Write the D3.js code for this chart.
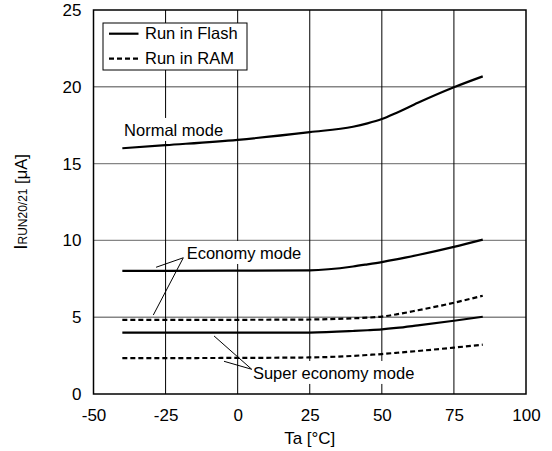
<!DOCTYPE html>
<html><head><meta charset="utf-8">
<script src="https://cdn.jsdelivr.net/npm/d3@7"></script>
<style>body{margin:0;background:#fff}svg{display:block;font-family:"Liberation Sans",Arial,Helvetica,sans-serif}</style>
</head><body><svg id="c" width="552" height="451"></svg>
<script>
// ---- data ----
const temps = [-40, -25, 0, 25, 40, 45, 50, 55, 62.5, 75, 85];
const normalFlash = [16.0, 16.2, 16.55, 17.05, 17.4, 17.62, 17.9, 18.3, 18.96, 19.97, 20.68];
const economyFlash = [8.02, 8.02, 8.03, 8.05, 8.3, 8.44, 8.59, 8.76, 9.05, 9.58, 10.05];
const economyRAM = [4.82, 4.82, 4.83, 4.85, 4.93, 4.97, 5.04, 5.18, 5.45, 5.94, 6.4];
const superFlash = [3.99, 3.99, 3.99, 4.0, 4.1, 4.15, 4.21, 4.3, 4.47, 4.77, 5.03];
const superRAM = [2.34, 2.34, 2.35, 2.38, 2.48, 2.54, 2.6, 2.68, 2.8, 3.02, 3.21];
const xTicks = [-50, -25, 0, 25, 50, 75, 100];
const yTicks = [0, 5, 10, 15, 20, 25];
const legendLabels = ["Run in Flash", "Run in RAM"];
const annotations = [
  {text: "Normal mode", x: -39.4, y: 16.8},
  {text: "Economy mode", x: -17.7, y: 8.79},
  {text: "Super economy mode", x: 5.3, y: 0.98}
];
const leaders = [
  [[-18.85, 8.87], [-28.3, 8.25]],
  [[-18.85, 8.87], [-29.26, 5.14]],
  [[4.87, 1.61], [-8.2, 3.78]],
  [[4.87, 1.61], [-4.74, 2.13]]
];

const series = [
  {v: normalFlash, dash: null},
  {v: economyFlash, dash: null},
  {v: economyRAM, dash: "5,3"},
  {v: superFlash, dash: null},
  {v: superRAM, dash: "5,3"}
];

const svg = d3.select("#c");
const L = 93.5, R = 526, T = 10, B = 394;
const x = d3.scaleLinear().domain([-50, 100]).range([L, R]);
const y = d3.scaleLinear().domain([0, 25]).range([B, T]);

// grid
svg.append("g").selectAll("line").data(yTicks.filter(d => d > 0 && d < 25)).join("line")
  .attr("x1", L).attr("x2", R).attr("y1", d => y(d)).attr("y2", d => y(d))
  .attr("stroke", "#858585").attr("stroke-width", 1.4);
svg.append("g").selectAll("line").data(xTicks.filter(d => d > -50 && d < 100)).join("line")
  .attr("y1", T).attr("y2", B).attr("x1", d => x(d)).attr("x2", d => x(d))
  .attr("stroke", "#000").attr("stroke-width", 1);

// annotation label backgrounds + text
const ag = svg.append("g");
annotations.forEach(a => {
  const bg = ag.append("rect").attr("fill", "#fff");
  const t = ag.append("text").attr("x", x(a.x)).attr("y", y(a.y))
    .attr("font-size", 16.5).attr("fill", "#000").text(a.text);
  const bb = t.node().getBBox();
  bg.attr("x", bb.x - 3).attr("y", bb.y - 3).attr("width", bb.width + 6).attr("height", bb.height + 5);
});

// leader lines
svg.append("g").selectAll("line").data(leaders).join("line")
  .attr("x1", d => x(d[0][0])).attr("y1", d => y(d[0][1]))
  .attr("x2", d => x(d[1][0])).attr("y2", d => y(d[1][1]))
  .attr("stroke", "#000").attr("stroke-width", 1);

// curves
const line = d3.line().x((d, i) => x(temps[i])).y(d => y(d)).curve(d3.curveMonotoneX);
svg.append("g").selectAll("path").data(series).join("path")
  .attr("d", d => line(d.v)).attr("fill", "none").attr("stroke", "#000")
  .attr("stroke-width", 2.2).attr("stroke-dasharray", d => d.dash);

// frame
svg.append("rect").attr("x", L).attr("y", T).attr("width", R - L).attr("height", B - T)
  .attr("fill", "none").attr("stroke", "#000").attr("stroke-width", 1.5);

// axes
const fmt = d => String(d);
const xAxis = svg.append("g").attr("transform", `translate(0,${B})`)
  .call(d3.axisBottom(x).tickValues(xTicks).tickSize(0).tickPadding(15).tickFormat(fmt));
const yAxis = svg.append("g").attr("transform", `translate(${L},0)`)
  .call(d3.axisLeft(y).tickValues(yTicks).tickSize(0).tickPadding(12).tickFormat(fmt));
[xAxis, yAxis].forEach(g => {
  g.select(".domain").remove();
  g.selectAll("text").attr("font-size", 17).attr("font-family", "Liberation Sans, Arial, sans-serif").attr("fill", "#000");
});

// axis titles
svg.append("text").attr("x", (L + R) / 2).attr("y", 444).attr("text-anchor", "middle")
  .attr("font-size", 17).text("Ta [°C]");
const yt = svg.append("text").attr("transform", `translate(27,${(T + B) / 2}) rotate(-90)`)
  .attr("text-anchor", "middle");
yt.append("tspan").attr("font-size", 19).text("I");
yt.append("tspan").attr("font-size", 12).text("RUN20/21");
yt.append("tspan").attr("font-size", 16.5).text(" [μA]");

// legend
const lg = svg.append("g");
lg.append("rect").attr("x", 103).attr("y", 23).attr("width", 144).attr("height", 47)
  .attr("fill", "#fff").attr("stroke", "#000").attr("stroke-width", 1);
legendLabels.forEach((lab, i) => {
  const yy = 33.7 + i * 25;
  lg.append("line").attr("x1", 109).attr("x2", 138.5).attr("y1", yy).attr("y2", yy)
    .attr("stroke", "#000").attr("stroke-width", 2.2).attr("stroke-dasharray", i === 1 ? "5,3" : null);
  lg.append("text").attr("x", 145).attr("y", yy + 5.3).attr("font-size", 16.5).text(lab);
});
</script></body></html>
